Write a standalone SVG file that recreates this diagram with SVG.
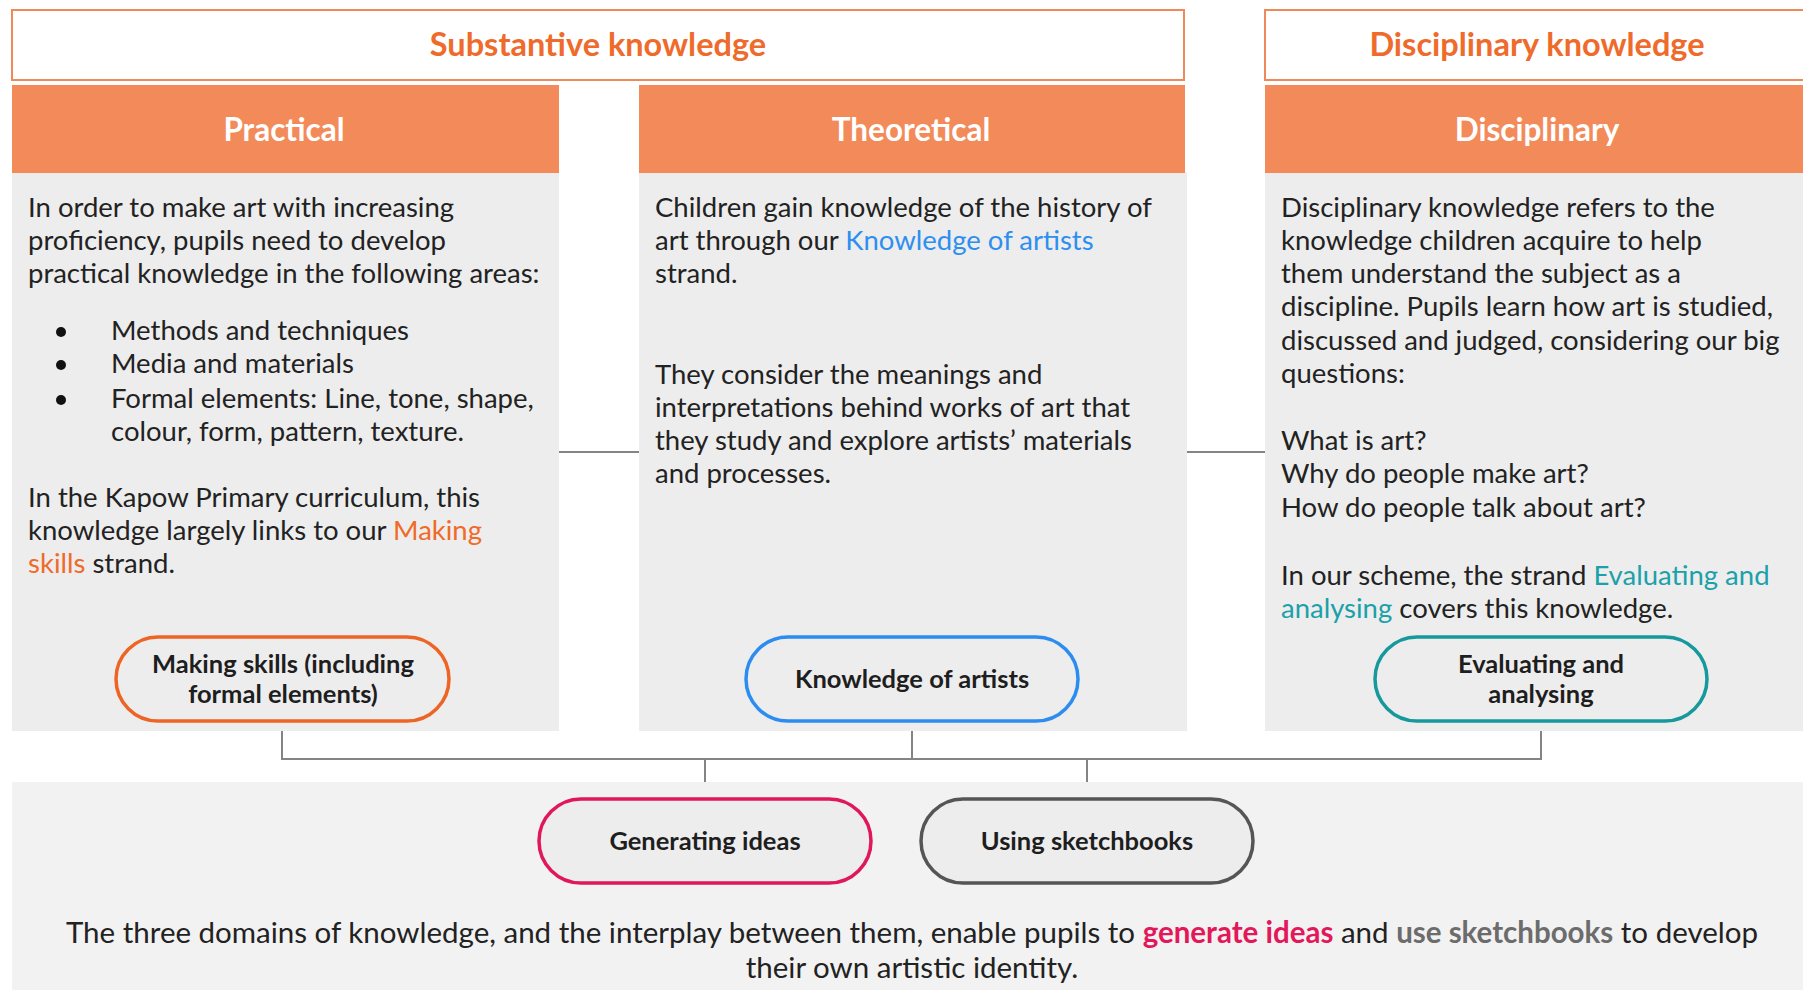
<svg xmlns="http://www.w3.org/2000/svg" width="1803" height="990" viewBox="0 0 1803 990">
<style>
text{font-family:Lato,"Noto Sans","Liberation Sans",sans-serif;}
.title{font-size:32.5px;font-weight:bold;fill:#EF6B2B;text-anchor:middle;}
.hdr{font-size:31.5px;font-weight:bold;fill:#FFFFFF;text-anchor:middle;}
.body{font-size:27.5px;fill:#222222;}
.lbl{font-size:25.5px;font-weight:bold;fill:#1E1E1E;text-anchor:middle;}
.foot{font-size:29.5px;fill:#222222;text-anchor:middle;}
.orange{fill:#F06A28;}
.blue{fill:#2E8FF0;}
.teal{fill:#1AA1AA;}
.crim{fill:#E2185A;font-weight:bold;}
.gry{fill:#6C6C6C;font-weight:bold;}
.tbox{fill:#FFFFFF;stroke:#F0895A;stroke-width:2;}
.hbar{fill:#F28B59;}
.panel{fill:#EDEDED;}
.pill{fill:#EDEDED;stroke-width:3.5;}
.conn{fill:none;stroke:#848484;stroke-width:2;}
</style>
<rect x="0" y="0" width="1803" height="990" fill="#FFFFFF"/>
<g id="connectors">
<line class="conn" x1="559" y1="452" x2="639" y2="452"/>
<line class="conn" x1="1187" y1="452" x2="1265" y2="452"/>
<polyline class="conn" points="282,721 282,759 1541,759 1541,721"/>
<line class="conn" x1="912" y1="721" x2="912" y2="759"/>
<line class="conn" x1="705" y1="759" x2="705" y2="799"/>
<line class="conn" x1="1087" y1="759" x2="1087" y2="799"/>
<line class="conn" x1="871" y1="841" x2="921" y2="841"/>
</g>
<g id="substantive-knowledge">
<rect class="tbox" x="12" y="10" width="1172" height="70"/>
<text class="title" x="598" y="56">Substantive knowledge</text>
</g>
<g id="disciplinary-knowledge">
<rect class="tbox" x="1265" y="10" width="560" height="70"/>
<text class="title" x="1537" y="56">Disciplinary knowledge</text>
</g>
<g id="practical">
<rect class="panel" x="12" y="172" width="547" height="559"/>
<rect class="hbar" x="12" y="85" width="547" height="88"/>
<text class="hdr" x="284" y="141">Practical</text>
<text class="body" x="28" y="217">In order to make art with increasing</text>
<text class="body" x="28" y="250">proficiency, pupils need to develop</text>
<text class="body" x="28" y="283">practical knowledge in the following areas:</text>
<circle cx="61" cy="332" r="5" fill="#111"/>
<circle cx="61" cy="365" r="5" fill="#111"/>
<circle cx="61" cy="400" r="5" fill="#111"/>
<text class="body" x="111" y="340">Methods and techniques</text>
<text class="body" x="111" y="373">Media and materials</text>
<text class="body" x="111" y="408">Formal elements: Line, tone, shape,</text>
<text class="body" x="111" y="441">colour, form, pattern, texture.</text>
<text class="body" x="28" y="507">In the Kapow Primary curriculum, this</text>
<text class="body" x="28" y="540">knowledge largely links to our <tspan class="orange">Making</tspan></text>
<text class="body" x="28" y="573"><tspan class="orange">skills</tspan> strand.</text>
</g>
<g id="theoretical">
<rect class="panel" x="639" y="172" width="548" height="559"/>
<rect class="hbar" x="639" y="85" width="546" height="88"/>
<text class="hdr" x="911" y="141">Theoretical</text>
<text class="body" x="655" y="217">Children gain knowledge of the history of</text>
<text class="body" x="655" y="250">art through our <tspan class="blue">Knowledge of artists</tspan></text>
<text class="body" x="655" y="283">strand.</text>
<text class="body" x="655" y="384">They consider the meanings and</text>
<text class="body" x="655" y="417">interpretations behind works of art that</text>
<text class="body" x="655" y="450">they study and explore artists’ materials</text>
<text class="body" x="655" y="483">and processes.</text>
</g>
<g id="disciplinary">
<rect class="panel" x="1265" y="172" width="538" height="559"/>
<rect class="hbar" x="1265" y="85" width="538" height="88"/>
<text class="hdr" x="1537" y="141">Disciplinary</text>
<text class="body" x="1281" y="217">Disciplinary knowledge refers to the</text>
<text class="body" x="1281" y="250">knowledge children acquire to help</text>
<text class="body" x="1281" y="283">them understand the subject as a</text>
<text class="body" x="1281" y="316">discipline. Pupils learn how art is studied,</text>
<text class="body" x="1281" y="350">discussed and judged, considering our big</text>
<text class="body" x="1281" y="383">questions:</text>
<text class="body" x="1281" y="450">What is art?</text>
<text class="body" x="1281" y="483">Why do people make art?</text>
<text class="body" x="1281" y="517">How do people talk about art?</text>
<text class="body" x="1281" y="585">In our scheme, the strand <tspan class="teal">Evaluating and</tspan></text>
<text class="body" x="1281" y="618"><tspan class="teal">analysing</tspan> covers this knowledge.</text>
</g>
<g id="making-skills">
<rect class="pill" x="116" y="637" width="333" height="84" rx="42" stroke="#EE6424"/>
<text class="lbl" x="283" y="673">Making skills (including</text>
<text class="lbl" x="283" y="703">formal elements)</text>
</g>
<g id="knowledge-of-artists">
<rect class="pill" x="746" y="637" width="332" height="84" rx="42" stroke="#2D8CF0"/>
<text class="lbl" x="912" y="688">Knowledge of artists</text>
</g>
<g id="evaluating-and-analysing">
<rect class="pill" x="1375" y="637" width="332" height="84" rx="42" stroke="#16989C"/>
<text class="lbl" x="1541" y="673">Evaluating and</text>
<text class="lbl" x="1541" y="703">analysing</text>
</g>
<g id="bottom-panel">
<rect x="12" y="782" width="1791" height="208" fill="#F2F2F2"/>
</g>
<g id="generating-ideas">
<rect class="pill" x="539" y="799" width="332" height="84" rx="42" stroke="#E0185A"/>
<text class="lbl" x="705" y="850">Generating ideas</text>
</g>
<g id="using-sketchbooks">
<rect class="pill" x="921" y="799" width="332" height="84" rx="42" stroke="#555555"/>
<text class="lbl" x="1087" y="850">Using sketchbooks</text>
</g>
<g id="footer">
<text class="foot" x="912" y="943">The three domains of knowledge, and the interplay between them, enable pupils to <tspan class="crim">generate ideas</tspan> and <tspan class="gry">use sketchbooks</tspan> to develop</text>
<text class="foot" x="912" y="978">their own artistic identity.</text>
</g>
</svg>
